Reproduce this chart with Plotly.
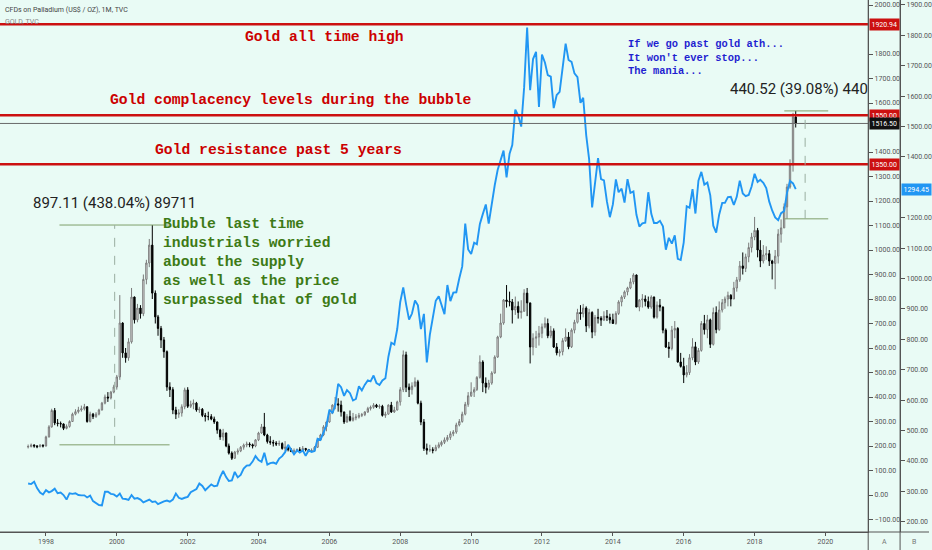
import pandas as pd
import plotly.graph_objects as go

# CFDs on Palladium, monthly candles Jul 1997 - Mar 2019
# open of each month is taken as the previous month's close
pall_first_open = 196
pall_close = [
    198, 204, 200, 197, 203, 200,
    237, 278, 345, 294, 292, 290, 272, 280, 300, 330, 340, 347,
    352, 360, 300, 330, 320, 330, 347, 375, 400, 396, 420, 441,
    482, 702, 580, 560, 625, 808, 715, 763, 740, 880, 947, 1020,
    824, 727, 680, 633, 585, 441, 430, 347, 330, 335, 360, 429,
    362, 370, 375, 347, 350, 325, 320, 320, 310, 298, 265, 237,
    253, 200, 171, 150, 175, 180, 195, 204, 208, 205, 200, 225,
    253, 278, 245, 218, 215, 212, 208, 210, 190, 195, 185, 178,
    180, 185, 182, 190, 185, 178, 182, 195, 225, 245, 278, 298,
    335, 367, 372, 367, 339, 298, 320, 305, 315, 318, 325, 328,
    339, 353, 358, 367, 360, 362, 325, 330, 367, 339, 347, 380,
    430, 572, 440, 430, 445, 462, 375, 298, 190, 183, 185, 182,
    195, 205, 215, 225, 235, 250, 257, 286, 300, 330, 370, 405,
    420, 430, 480, 543, 457, 440, 457, 498, 563, 645, 702, 796,
    790, 788, 755, 770, 745, 750, 824, 784, 604, 640, 645, 660,
    686, 700, 650, 670, 604, 580, 585, 630, 645, 605, 673, 705,
    745, 740, 763, 690, 745, 665, 725, 722, 714, 730, 725, 715,
    700, 741, 788, 808, 829, 845, 870, 898, 767, 796, 800, 790,
    767, 808, 726, 775, 767, 673, 604, 598, 673, 680, 543, 525,
    490, 500, 560, 605, 543, 590, 700, 675, 715, 615, 745, 675,
    755, 785, 800, 815, 800, 845, 878, 935, 925, 972, 1010, 1053,
    1080, 1000, 955, 980, 985, 955, 945, 975, 1065, 1090, 1176, 1257,
    1347, 1543, 1516.5,
]
pall_high = [
    206, 210, 207, 204, 208, 207,
    242, 285, 352, 355, 310, 300, 292, 288, 305, 336, 350, 360,
    365, 372, 362, 340, 335, 338, 352, 380, 410, 420, 425, 450,
    490, 816, 705, 600, 640, 845, 810, 780, 775, 900, 960, 1045,
    1101.91, 835, 735, 690, 645, 590, 460, 440, 360, 350, 370, 438,
    440, 385, 390, 380, 360, 355, 335, 340, 330, 320, 300, 270,
    270, 255, 210, 178, 180, 190, 200, 210, 218, 215, 210, 228,
    258, 290, 335, 250, 240, 225, 220, 222, 215, 220, 200, 192,
    190, 190, 195, 200, 192, 188, 190, 200, 230, 250, 285, 300,
    340, 370, 400, 395, 385, 340, 330, 345, 335, 330, 335, 335,
    342, 360, 365, 375, 372, 370, 368, 340, 370, 380, 360, 385,
    440, 590, 585, 455, 460, 480, 470, 385, 310, 210, 205, 195,
    205, 215, 222, 235, 245, 260, 265, 295, 310, 340, 380, 420,
    460, 440, 485, 570, 550, 480, 470, 505, 570, 650, 740, 800,
    857, 830, 800, 810, 790, 795, 840, 845, 785, 660, 670, 690,
    700, 725, 720, 690, 680, 620, 595, 640, 680, 665, 680, 715,
    760, 775, 780, 770, 760, 750, 735, 760, 730, 750, 755, 740,
    740, 750, 795, 815, 835, 850, 885, 905, 900, 800, 820, 815,
    810, 815, 810, 790, 800, 770, 680, 625, 690, 710, 685, 580,
    560, 530, 575, 640, 625, 600, 710, 735, 735, 720, 765, 770,
    790, 800, 810, 830, 820, 870, 890, 955, 990, 985, 1030, 1070,
    1135, 1090, 1040, 1020, 1015, 1000, 960, 1000, 1085, 1125, 1190, 1270,
    1370, 1560, 1567.72,
]
pall_low = [
    190, 194, 193, 191, 195, 194,
    198, 235, 275, 285, 280, 276, 265, 268, 275, 298, 325, 333,
    340, 345, 295, 296, 310, 315, 325, 345, 370, 380, 390, 415,
    430, 470, 560, 540, 548, 618, 700, 705, 720, 730, 860, 930,
    800, 700, 650, 600, 560, 425, 400, 330, 310, 315, 320, 350,
    355, 355, 350, 340, 335, 318, 300, 305, 305, 290, 250, 225,
    222, 195, 165, 143, 148, 165, 175, 185, 195, 195, 190, 195,
    220, 250, 240, 210, 205, 198, 200, 200, 185, 180, 178, 175,
    173, 175, 178, 178, 178, 175, 175, 180, 192, 220, 240, 260,
    295, 330, 350, 340, 320, 290, 295, 300, 300, 305, 312, 318,
    322, 335, 345, 352, 355, 352, 320, 315, 328, 335, 335, 345,
    365, 420, 420, 400, 410, 440, 370, 285, 180, 165, 175, 170,
    178, 190, 198, 208, 218, 225, 240, 250, 280, 295, 325, 360,
    400, 400, 425, 475, 420, 415, 430, 450, 495, 560, 640, 695,
    765, 770, 700, 735, 720, 720, 748, 730, 537, 570, 600, 610,
    640, 680, 640, 640, 600, 570, 565, 570, 625, 595, 600, 660,
    700, 715, 725, 665, 680, 640, 650, 700, 690, 710, 710, 700,
    700, 695, 735, 770, 800, 815, 840, 860, 767, 750, 765, 770,
    760, 760, 720, 720, 750, 660, 600, 560, 590, 640, 540, 520,
    457, 480, 490, 550, 530, 535, 585, 655, 640, 600, 610, 660,
    670, 745, 760, 770, 770, 800, 830, 870, 900, 910, 950, 990,
    1040, 970, 930, 945, 960, 935, 880, 840, 945, 1030, 1090, 1127.2,
    1250, 1320, 1500,
]

# GOLD, TVC monthly closes over the same months
gold_close = [
    326, 324, 332, 311, 296, 290,
    304, 297, 301, 309, 294, 296, 288, 273, 294, 292, 294, 288,
    287, 287, 280, 286, 268, 261, 255, 254, 299, 299, 292, 290,
    283, 293, 276, 275, 272, 288, 276, 278, 273, 264, 270, 273,
    265, 267, 258, 264, 267, 270, 266, 273, 293, 279, 275, 279,
    282, 297, 301, 308, 326, 318, 304, 312, 323, 317, 319, 347,
    367, 347, 334, 336, 364, 346, 354, 375, 385, 386, 398, 416,
    403, 397, 427, 388, 393, 395, 391, 408, 416, 429, 453, 438,
    422, 435, 428, 435, 417, 435, 430, 433, 473, 470, 495, 517,
    569, 557, 582, 654, 643, 614, 633, 623, 599, 604, 646, 632,
    651, 665, 662, 681, 656, 650, 665, 672, 743, 789, 783, 834,
    923, 971, 916, 865, 885, 928, 912, 834, 884, 724, 815, 870,
    927, 942, 916, 883, 979, 926, 954, 955, 1001, 1040, 1181, 1096,
    1081, 1118, 1113, 1180, 1212, 1244, 1181, 1248, 1307, 1357, 1386, 1421,
    1333, 1411, 1439, 1556, 1536, 1500, 1628, 1826, 1620, 1722, 1746, 1565,
    1737, 1710, 1669, 1664, 1561, 1604, 1614, 1692, 1773, 1719, 1713, 1675,
    1663, 1578, 1595, 1472, 1393, 1234, 1313, 1396, 1327, 1323, 1253, 1202,
    1244, 1326, 1284, 1296, 1250, 1327, 1282, 1287, 1210, 1171, 1182, 1184,
    1284, 1213, 1183, 1183, 1190, 1172, 1095, 1134, 1115, 1142, 1065, 1061,
    1118, 1238, 1233, 1294, 1214, 1322, 1351, 1309, 1316, 1274, 1174, 1151,
    1211, 1249, 1249, 1268, 1269, 1242, 1269, 1322, 1280, 1271, 1275, 1303,
    1345, 1318, 1325, 1315, 1298, 1253, 1224, 1201, 1192, 1215, 1222, 1282,
    1321, 1313, 1294.45,
]

# horizontal levels drawn on the palladium scale
level_prices = [1920.94, 1550.00, 1350.00]
last_pall = 1516.50
last_gold = 1294.45

# price range measurements
bubble_low, bubble_high = 204.80, 1101.91
recent_low, recent_high = 1127.20, 1567.72

year_ticks = [str(y) for y in range(1998, 2021, 2)]
# ticks hidden behind the price labels are left out
pall_ticks = [v for v in range(-100, 2001, 100) if v not in (1500, 1900)]
gold_ticks = [v for v in range(200, 1901, 100) if v != 1300]

months = pd.date_range('1997-07-01', periods=len(pall_close), freq='MS')
pall_open = [pall_first_open] + pall_close[:-1]

BG = '#e9fbf5'
AXIS = '#555555'
RED = '#cc1010'
MONO = 'Liberation Mono, Courier New, monospace'
SANS = 'Roboto, Liberation Sans, sans-serif'
XDOM = 871 / 932
XB = 903 / 932
PH = 532  # plot height in px


def py(px):
    return 1 - px / PH


figure = go.Figure()
figure.add_trace(go.Candlestick(
    x=months,
    open=pall_open,
    high=pall_high,
    low=pall_low,
    close=pall_close,
    increasing=dict(line=dict(color='#7a7a7a', width=1), fillcolor='#f4f4f4'),
    decreasing=dict(line=dict(color='#000000', width=1), fillcolor='#000000'),
    showlegend=False,
    yaxis='y',
))
figure.add_trace(go.Scatter(
    x=months,
    y=gold_close,
    mode='lines',
    line=dict(color='#2196f3', width=1.9),
    showlegend=False,
    yaxis='y2',
))

# red gold levels + last price line
for p in level_prices:
    figure.add_shape(type='line', xref='paper', yref='y', x0=0, x1=XDOM,
                     y0=p, y1=p, line=dict(color=RED, width=2.5))
figure.add_shape(type='line', xref='paper', yref='y', x0=0, x1=XDOM,
                 y0=last_pall, y1=last_pall, line=dict(color='#6a6a6a', width=1))

# measurement tools
MEAS = '#7f9f6a'
for lo, hi, x0, x1, xm in [
    (bubble_low, bubble_high, '1998-05-20', '2001-06-28', '1999-12-10'),
    (recent_low, recent_high, '2018-11-03', '2020-01-30', '2019-06-06'),
]:
    for p in (lo, hi):
        figure.add_shape(type='line', xref='x', yref='y', x0=x0, x1=x1,
                         y0=p, y1=p, line=dict(color=MEAS, width=1))
    figure.add_shape(type='line', xref='x', yref='y', x0=xm, x1=xm,
                     y0=lo, y1=hi, line=dict(color='#9aaea0', width=1, dash='dash'))

# axis frame lines
figure.add_shape(type='line', xref='paper', yref='paper', x0=0, x1=1, y0=0, y1=0,
                 line=dict(color=AXIS, width=1))
for xp in (XDOM, XB):
    figure.add_shape(type='line', xref='paper', yref='paper', x0=xp, x1=xp,
                     y0=-18 / PH, y1=1, line=dict(color=AXIS, width=1))

annotations = [
    dict(text='<b>Gold all time high</b>', x=326 / 932, y=py(37),
         font=dict(family=MONO, size=14.7, color='#cc0000'), xanchor='center'),
    dict(text='<b>Gold complacency levels during the bubble</b>', x=292 / 932, y=py(100),
         font=dict(family=MONO, size=14.7, color='#cc0000'), xanchor='center'),
    dict(text='<b>Gold resistance past 5 years</b>', x=279 / 932, y=py(150),
         font=dict(family=MONO, size=14.7, color='#cc0000'), xanchor='center'),
    dict(text='<b>Bubble last time<br>industrials worried<br>about the supply<br>'
              'as well as the price<br>surpassed that of gold</b>',
         x=162 / 932, y=py(214), xanchor='left', yanchor='top', align='left',
         font=dict(family=MONO, size=14.7, color='#3d7a16')),
    dict(text="<b>If we go past gold ath...<br>It won't ever stop...<br>The mania...</b>",
         x=628 / 932, y=py(36), xanchor='left', yanchor='top', align='left',
         font=dict(family=MONO, size=10.4, color='#1f1fd0')),
    dict(text='897.11 (438.04%) 89711', x=115 / 932, y=py(203), xanchor='center',
         font=dict(family=SANS, size=15, color='#222222')),
    dict(text='440.52 (39.08%) 440', x=730 / 932, y=py(89), xanchor='left',
         font=dict(family=SANS, size=15, color='#222222')),
    dict(text='CFDs on Palladium (US$ / OZ), 1M, TVC', x=3 / 932, y=py(10),
         xanchor='left', font=dict(family=SANS, size=7, color='#444444')),
    dict(text='GOLD, TVC', x=3 / 932, y=py(22), xanchor='left',
         font=dict(family=SANS, size=7, color='#888888')),
    dict(text='A', x=887 / 932, y=py(542), xanchor='center',
         font=dict(family=SANS, size=7, color='#777777')),
    dict(text='B', x=917 / 932, y=py(542), xanchor='center',
         font=dict(family=SANS, size=7, color='#777777')),
]
for a in annotations:
    a.setdefault('yanchor', 'middle')
    a.update(xref='paper', yref='paper', showarrow=False)

# price labels on the axes
for p, bg in [(level_prices[0], RED), (level_prices[1], RED),
              (last_pall, '#111111'), (level_prices[2], RED)]:
    annotations.append(dict(
        text=f'{p:.2f}', xref='paper', yref='y', x=872 / 932, y=p,
        xanchor='left', yanchor='middle', showarrow=False, bgcolor=bg,
        borderpad=1.5, font=dict(family=SANS, size=7, color='white')))
annotations.append(dict(
    text=f'{last_gold:.2f}', xref='paper', yref='y2', x=904 / 932, y=last_gold,
    xanchor='left', yanchor='middle', showarrow=False, bgcolor='#2196f3',
    borderpad=1.5, font=dict(family=SANS, size=7, color='white')))

figure.update_layout(
    width=932,
    height=550,
    margin=dict(l=0, r=0, t=0, b=18),
    paper_bgcolor=BG,
    plot_bgcolor=BG,
    showlegend=False,
    annotations=annotations,
    xaxis=dict(
        type='date',
        domain=[0, XDOM],
        range=['1996-09-14', '2021-03-17'],
        rangeslider=dict(visible=False),
        tickvals=[f'{y}-01-01' for y in year_ticks],
        ticktext=year_ticks,
        ticks='outside',
        ticklen=3,
        tickcolor=AXIS,
        showline=True,
        linecolor=AXIS,
        showgrid=False,
        zeroline=False,
        tickfont=dict(family=SANS, size=7, color=AXIS),
    ),
    yaxis=dict(
        range=[-151, 2020.4],
        side='right',
        anchor='x',
        tickvals=pall_ticks,
        tickformat='.2f',
        ticks='outside',
        ticklen=4,
        tickcolor=AXIS,
        showline=True,
        linecolor=AXIS,
        showgrid=False,
        zeroline=False,
        tickfont=dict(family=SANS, size=7, color=AXIS),
    ),
    yaxis2=dict(
        range=[166.4, 1916.4],
        overlaying='y',
        side='right',
        anchor='free',
        position=XB,
        tickvals=gold_ticks,
        tickformat='.2f',
        ticks='outside',
        ticklen=4,
        tickcolor=AXIS,
        showline=True,
        linecolor=AXIS,
        showgrid=False,
        zeroline=False,
        tickfont=dict(family=SANS, size=7, color=AXIS),
    ),
)

figure.write_html("out.html", config={'displayModeBar': False},
                  post_script="document.body.style.margin='0';")
